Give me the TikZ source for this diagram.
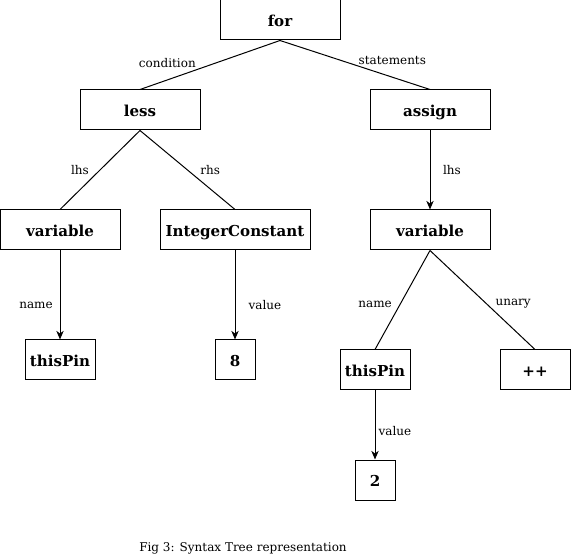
\documentclass[tikz,border=0pt]{standalone}
\usepackage{fontspec}
\setmainfont{DejaVu Serif}
\usetikzlibrary{arrows.meta}
\tikzset{
	treenode/.style={draw, line width=0.75pt, minimum width=90pt, minimum height=30pt, inner sep=2pt,
		text height=10pt, text depth=0pt, font=\bfseries\fontsize{11.3}{13}\selectfont},
	lbl/.style={font=\fontsize{9}{11}\selectfont, inner sep=0},
	arr/.style={-{Stealth[length=6.5pt,width=5.5pt,inset=2pt]}}
}
\begin{document}
\begin{tikzpicture}[x=0.75pt, y=-0.75pt, line width=0.75pt]
					\useasboundingbox (0,0) rectangle (571,559);
					\node[treenode] (for) at (280, 20) {for};
					\node[treenode] (less) at (140, 110) {less};
					\node[treenode] (assign) at (430, 110) {assign};
					\node[treenode] (var1) at (60, 230) {variable};
					\node[treenode, minimum width=112.5pt] (intconst) at (235, 230) {IntegerConstant};
					\node[treenode] (var2) at (430, 230) {variable};
					\node[treenode, minimum width=52.5pt] (pin1) at (60, 360) {thisPin};
					\node[treenode, minimum width=30pt] (eight) at (235, 360) {8};
					\node[treenode, minimum width=52.5pt] (pin2) at (375, 370) {thisPin};
					\node[treenode, minimum width=52.5pt] (incr) at (535, 370) {++};
					\node[treenode, minimum width=30pt] (two) at (375, 480) {2};
					\node[lbl] (caption) at (243, 548) {Fig 3: Syntax Tree representation};
					\path (for.south) edge node[lbl, xshift=-32pt, yshift=1.5pt] {condition} (less.north);
					\path (for.south) edge node[lbl, xshift=28pt, yshift=3.5pt] {statements} (assign.north);
					\path (less.south) edge node[lbl, xshift=-15pt] {lhs} (var1.north);
					\path (less.south) edge node[lbl, xshift=17pt] {rhs} (intconst.north);
					\path (assign.south) edge[arr] node[lbl, xshift=16.5pt] {lhs} (var2.north);
					\path (var1.south) edge[arr] node[lbl, xshift=-18pt, yshift=-7.5pt] {name} (pin1.north);
					\path (intconst.south) edge[arr] node[lbl, xshift=22.5pt, yshift=-7.5pt] {value} (eight.north);
					\path (var2.south) edge node[lbl, xshift=-20.5pt, yshift=-3.5pt] {name} (pin2.north);
					\path (var2.south) edge node[lbl, xshift=23pt, yshift=-2.5pt] {unary} (incr.north);
					\path (pin2.south) edge[arr] node[lbl, xshift=15pt, yshift=-4.5pt] {value} (two.north);
\end{tikzpicture}
\end{document}
